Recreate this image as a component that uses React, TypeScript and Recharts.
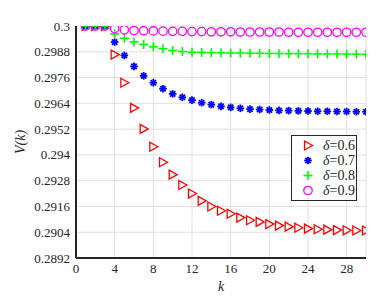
import {
  ScatterChart, Scatter, XAxis, YAxis, CartesianGrid, Label,
} from 'recharts'

const K = [1, 2, 3, 4, 5, 6, 7, 8, 9, 10, 11, 12, 13, 14, 15, 16, 17, 18, 19, 20, 21, 22, 23, 24, 25, 26, 27, 28, 29, 30]

const D06 = [0.3, 0.3, 0.3, 0.29867, 0.29736, 0.29619, 0.29521, 0.29438, 0.29366, 0.29308, 0.2926, 0.2922, 0.29186, 0.2916, 0.2914,
  0.29126, 0.29108, 0.29096, 0.29088, 0.29078, 0.29071, 0.29066, 0.29061, 0.29057, 0.29054, 0.29052, 0.2905, 0.29049, 0.29048, 0.29048]
const D07 = [0.3, 0.3, 0.3, 0.29925, 0.29863, 0.29812, 0.29768, 0.29736, 0.29708, 0.29684, 0.29668, 0.29655, 0.29643, 0.29634, 0.29626,
  0.29621, 0.29617, 0.29613, 0.29611, 0.29609, 0.29607, 0.29606, 0.29605, 0.29604, 0.29603, 0.29603, 0.29602, 0.29602, 0.29601, 0.29601]
const D08 = [0.3, 0.3, 0.3, 0.29963, 0.29943, 0.29926, 0.29914, 0.29903, 0.29894, 0.29886, 0.29881, 0.29878, 0.29877, 0.29876, 0.29875,
  0.29874, 0.29874, 0.29873, 0.29873, 0.29872, 0.29872, 0.29871, 0.29871, 0.29871, 0.2987, 0.2987, 0.2987, 0.29869, 0.29869, 0.29868]
const D09 = [0.3, 0.3, 0.3, 0.29988, 0.29982, 0.29979, 0.29978, 0.29977, 0.29976, 0.29975, 0.29975, 0.29974, 0.29974, 0.29973, 0.29973,
  0.29973, 0.29972, 0.29972, 0.29972, 0.29972, 0.29972, 0.29971, 0.29971, 0.29971, 0.29971, 0.29971, 0.29971, 0.29971, 0.29971, 0.29971]

const X_TICKS = [0, 4, 8, 12, 16, 20, 24, 28]
const Y_TICKS = [0.2892, 0.2904, 0.2916, 0.2928, 0.294, 0.2952, 0.2964, 0.2976, 0.2988, 0.3]
const LABELS = ['0.6', '0.7', '0.8', '0.9']

const AXIS_C = '#262626'
const FONT = '"Liberation Serif", "Times New Roman", Times, serif'

const toPts = (vals: number[]) => K.map((k, i) => ({ k, v: vals[i] }))

function XTick({ x, y, payload }: any) {
  return <text x={x} y={y + 13} textAnchor="middle" style={{ fontFamily: FONT }} fontSize={13} fill={AXIS_C}>{payload.value}</text>
}
function YTick({ x, y, payload }: any) {
  return <text x={x - 4} y={y + 4.5} textAnchor="end" style={{ fontFamily: FONT }} fontSize={13} fill={AXIS_C}>{payload.value}</text>
}

// marker shapes, MATLAB-ish
function Tri({ cx, cy }: any) {
  return <path d={`M${cx - 3.5},${cy - 4.5} L${cx + 4.5},${cy} L${cx - 3.5},${cy + 4.5} Z`} fill="none" stroke="#ff0000" strokeWidth={1.3} />
}
function Star({ cx, cy }: any) {
  const r = 3.8
  const d = r * 0.7
  return (
    <g stroke="#0000ff" strokeWidth={1.8}>
      <line x1={cx - r} y1={cy} x2={cx + r} y2={cy} />
      <line x1={cx} y1={cy - r} x2={cx} y2={cy + r} />
      <line x1={cx - d} y1={cy - d} x2={cx + d} y2={cy + d} />
      <line x1={cx - d} y1={cy + d} x2={cx + d} y2={cy - d} />
    </g>
  )
}
function Plus({ cx, cy }: any) {
  return (
    <g stroke="#00ff00" strokeWidth={1.6}>
      <line x1={cx - 4.5} y1={cy} x2={cx + 4.5} y2={cy} />
      <line x1={cx} y1={cy - 4.5} x2={cx} y2={cy + 4.5} />
    </g>
  )
}
function Circ({ cx, cy }: any) {
  return <circle cx={cx} cy={cy} r={4.2} fill="none" stroke="#ff00ff" strokeWidth={1.3} />
}

const SHAPES = [Tri, Star, Plus, Circ]

function LegendBox() {
  return (
    <div style={{
      position: 'absolute', left: 283, top: 127,
      border: `1px solid ${AXIS_C}`, background: '#fff', width: 64, padding: '2px 0',
      fontFamily: FONT, fontSize: 14, color: AXIS_C, lineHeight: '15px',
    }}>
      {LABELS.map((l, i) => {
        const S = SHAPES[i]
        return (
          <div key={l} style={{ display: 'flex', alignItems: 'center', height: 15 }}>
            <svg width={30} height={15}><S cx={16} cy={7.5} /></svg>
            <span style={{ marginLeft: 1 }}><i>δ</i>={l}</span>
          </div>
        )
      })}
    </div>
  )
}

export default function App() {
  return (
    <div style={{ position: 'relative', width: 383, height: 293, fontFamily: FONT }}>
      <ScatterChart width={383} height={293} margin={{ top: 18, right: 25, bottom: 13, left: 0 }} style={{ fontFamily: FONT }}>
        <CartesianGrid stroke="#e0e0e0" horizontal vertical />
        <XAxis
          type="number" dataKey="k" domain={[0, 30]} ticks={X_TICKS} allowDataOverflow interval={0}
          tick={<XTick />} tickLine={false} tickSize={0} height={30}
          axisLine={{ stroke: AXIS_C, strokeWidth: 2 }}
        >
          <Label
            content={({ viewBox }: any) => (
              <text x={viewBox.x + viewBox.width / 2} y={viewBox.y + 33} textAnchor="middle" style={{ fontFamily: FONT, fontStyle: 'italic' }} fontSize={14} fill={AXIS_C}>k</text>
            )}
          />
        </XAxis>
        <XAxis xAxisId="top" orientation="top" type="number" domain={[0, 30]} tick={false} height={0} axisLine={{ stroke: AXIS_C, strokeWidth: 1 }} />
        <YAxis
          type="number" dataKey="v" domain={[0.2892, 0.3]} ticks={Y_TICKS} allowDataOverflow interval={0}
          tick={<YTick />} tickLine={false} tickSize={0} width={68}
          axisLine={{ stroke: AXIS_C, strokeWidth: 2 }}
        >
          <Label
            content={({ viewBox }: any) => {
              const cx = 17
              const cy = viewBox.y + viewBox.height / 2
              return (
                <text x={cx} y={cy} transform={`rotate(-90 ${cx} ${cy})`} textAnchor="middle" style={{ fontFamily: FONT, fontStyle: 'italic' }} fontSize={14} fill={AXIS_C}>V(k)</text>
              )
            }}
          />
        </YAxis>
        <YAxis yAxisId="right" orientation="right" type="number" domain={[0.2892, 0.3]} tick={false} width={0} axisLine={{ stroke: AXIS_C, strokeWidth: 1 }} />
        <Scatter name="0.6" data={toPts(D06)} shape={<Tri />} isAnimationActive={false} />
        <Scatter name="0.7" data={toPts(D07)} shape={<Star />} isAnimationActive={false} />
        <Scatter name="0.8" data={toPts(D08)} shape={<Plus />} isAnimationActive={false} />
        <Scatter name="0.9" data={toPts(D09)} shape={<Circ />} isAnimationActive={false} />
      </ScatterChart>
      <LegendBox />
    </div>
  )
}
